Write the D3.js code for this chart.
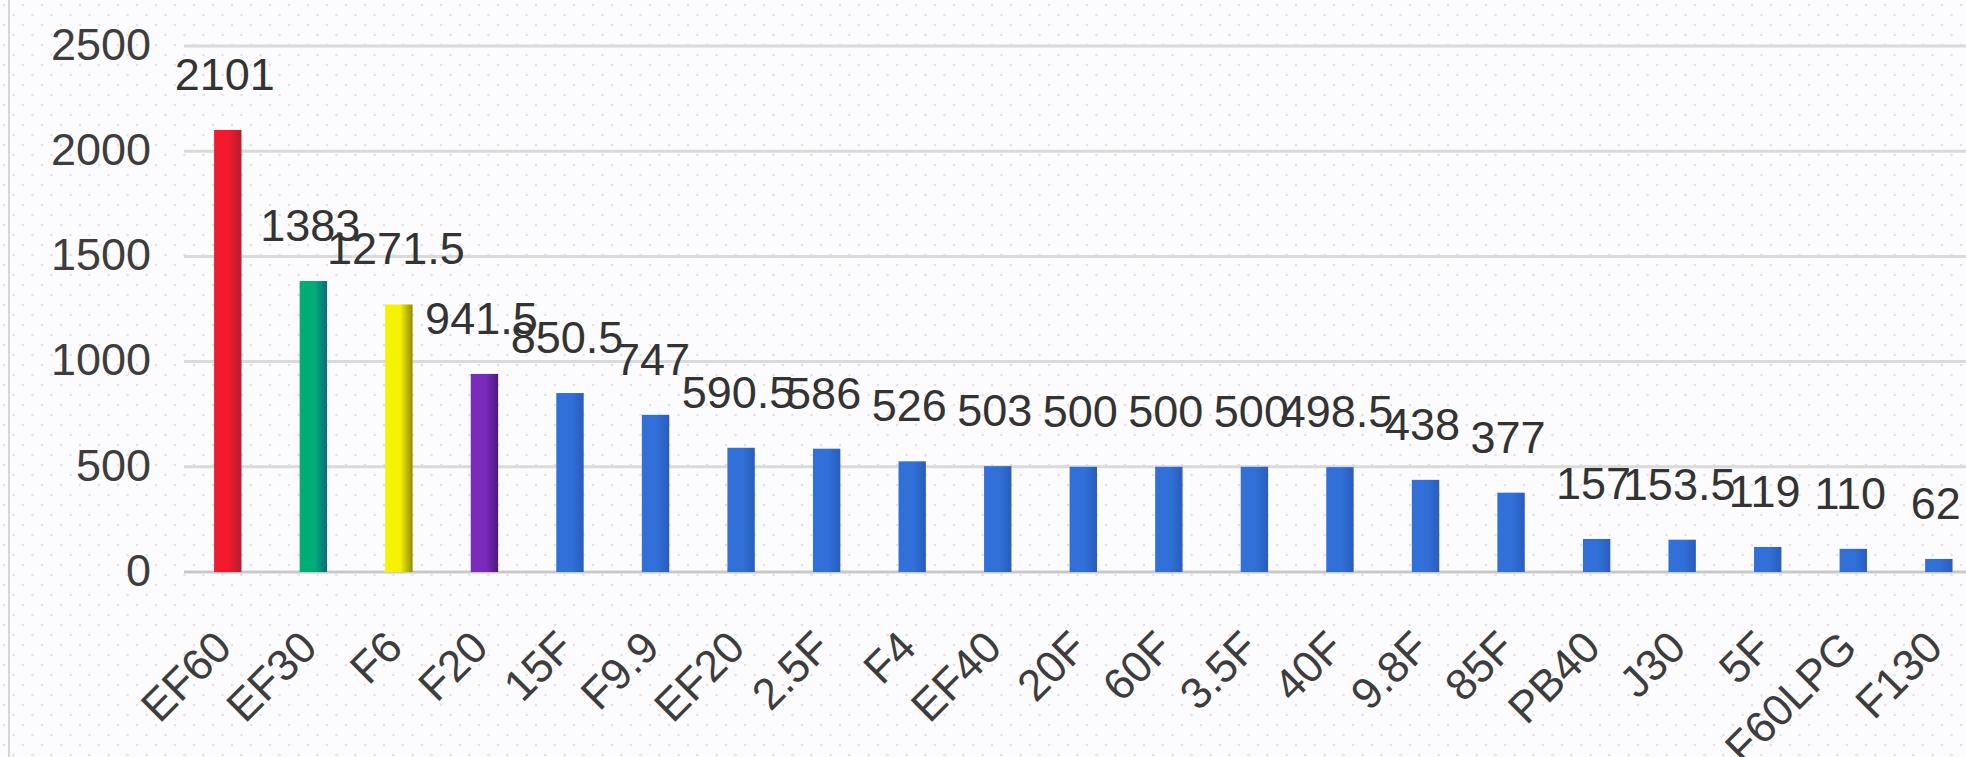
<!DOCTYPE html>
<meta charset="utf-8">
<script src="https://d3js.org/d3.v7.min.js"></script>
<style>
  body { margin: 0; background: #fff; }
  svg { display: block; }
</style>
<body>
<div id="canvas"></div>
<script>

  // dados
  var categories = ["EF60","EF30","F6","F20","15F","F9.9","EF20","2.5F","F4","EF40","20F","60F","3.5F","40F","9.8F","85F","PB40","J30","5F","F60LPG","F130"];
  var values = [2101,1383,1271.5,941.5,850.5,747,590.5,586,526,503,500,500,500,498.5,438,377,157,153.5,119,110,62];
  var yTicks = [0,500,1000,1500,2000,2500];

  var width = 1966;
  var height = 757;
  var font = "'Liberation Sans', Arial, sans-serif";

  var svg = d3.select('#canvas')
    .append("svg")
    .attr("width", width)
    .attr("height", height);

  var defs = svg.append("defs");

  // fundo pontilhado
  var pat = defs.append("pattern")
    .attr("id", "dots")
    .attr("width", 19)
    .attr("height", 20)
    .attr("patternUnits", "userSpaceOnUse");
  pat.append("rect").attr("width", 19).attr("height", 20).attr("fill", "#fcfbfd");
  pat.append("circle").attr("cx", 4).attr("cy", 5).attr("r", 1.3).attr("fill", "#e6dfe9");
  pat.append("circle").attr("cx", 13.5).attr("cy", 15).attr("r", 1.3).attr("fill", "#e6dfe9");

  svg.append("rect")
    .attr("width", width)
    .attr("height", height)
    .attr("fill", "url(#dots)");

  // borda esquerda
  svg.append("line")
    .attr("x1", 9).attr("x2", 9)
    .attr("y1", 0).attr("y2", height)
    .attr("stroke", "#d6d6d6")
    .attr("stroke-width", 2);

  // gradientes das barras
  var barColors = [
    ["#f21a2c", "#b01e2e"],
    ["#00ad77", "#0d6a80"],
    ["#f6f200", "#8f8c00"],
    ["#7b2bbb", "#4a1a7c"],
    ["#3070d8", "#2a5cbc"]
  ];
  barColors.forEach(function(c, i) {
    var g = defs.append("linearGradient")
      .attr("id", "grad" + i)
      .attr("x1", "0%").attr("x2", "100%");
    g.append("stop").attr("offset", "0%").attr("stop-color", c[0]);
    g.append("stop").attr("offset", "55%").attr("stop-color", c[0]);
    g.append("stop").attr("offset", "100%").attr("stop-color", c[1]);
  });

  var x = d3.scaleBand()
    .domain(categories)
    .range([185, 1981.6])
    .paddingInner(0.68)
    .paddingOuter(0.34);

  var y = d3.scaleLinear()
    .domain([0, 2500])
    .range([572, 46]);

  // grade
  svg.append("g").selectAll("line")
    .data(yTicks)
    .enter()
    .append("line")
    .attr("x1", 184)
    .attr("x2", width)
    .attr("y1", function(d) { return y(d); })
    .attr("y2", function(d) { return y(d); })
    .attr("stroke", function(d) { return d === 0 ? "#c9c9c9" : "#dadada"; })
    .attr("stroke-width", 3);

  // eixo Y
  svg.append("g").selectAll("text")
    .data(yTicks)
    .enter()
    .append("text")
    .attr("x", 151)
    .attr("y", function(d) { return y(d) + 2; })
    .attr("text-anchor", "end")
    .attr("dominant-baseline", "middle")
    .style("font-family", font)
    .style("font-size", "45px")
    .attr("fill", "#3d3d3d")
    .text(function(d) { return d; });

  // barras
  svg.append("g").selectAll("rect")
    .data(values)
    .enter()
    .append("rect")
    .attr("x", function(d, i) { return x(categories[i]); })
    .attr("width", x.bandwidth())
    .attr("y", function(d) { return y(d); })
    .attr("height", function(d) { return y(0) - y(d); })
    .attr("fill", function(d, i) { return "url(#grad" + Math.min(i, 4) + ")"; });

  // rotulos de valor
  svg.append("g").selectAll("text")
    .data(values)
    .enter()
    .append("text")
    .attr("x", function(d, i) { return x(categories[i]) + x.bandwidth() / 2 - 3; })
    .attr("y", function(d) { return y(d) - 40; })
    .attr("text-anchor", "middle")
    .style("font-family", font)
    .style("font-size", "45px")
    .attr("fill", "#333")
    .text(function(d) { return d; });

  // rotulos do eixo X
  svg.append("g").selectAll("text")
    .data(categories)
    .enter()
    .append("text")
    .attr("transform", function(d) {
      return "translate(" + (x(d) + x.bandwidth() / 2 + 6) + "," + 650 + ") rotate(-45)";
    })
    .attr("text-anchor", "end")
    .style("font-family", font)
    .style("font-size", "44px")
    .attr("fill", "#3d3d3d")
    .text(function(d) { return d; });

</script>
</body>
